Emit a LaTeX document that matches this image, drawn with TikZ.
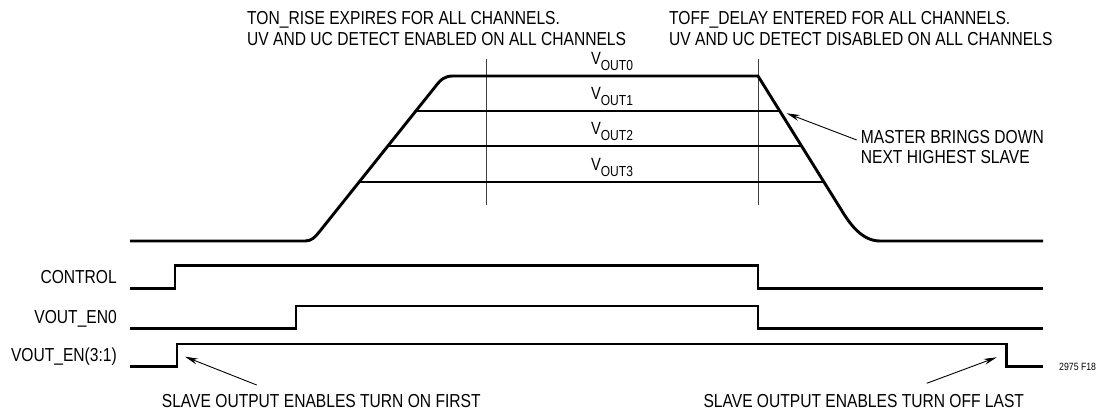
\documentclass[tikz,border=0pt]{standalone}
\usepackage{fontspec}
\setmainfont{Liberation Sans}[FakeStretch=0.83]
\usetikzlibrary{arrows.meta}
\newcommand\vsublabel[1]{V\raisebox{-5.7pt}{\fontsize{14.5}{14.5}\selectfont OUT#1}}
\tikzset{
  wave/.style={line width=2.9pt, line join=round},
  digi/.style={line width=2.9pt, line join=miter},
  guide/.style={line width=0.9pt, black!75},
  note/.style={font=\fontsize{18.8}{20.5}\selectfont, inner sep=0pt},
  notew/.style={note, anchor=base west},
  lbl/.style={note, anchor=base east},
  vl/.style={font=\fontsize{17.7}{18}\selectfont, inner sep=0pt, anchor=base},
  callout/.style={line width=0.9pt, -{Stealth[length=13pt,width=6pt]}},
}
\begin{document}
\begin{tikzpicture}[x=1pt,y=-1pt]
\useasboundingbox (0,0) rectangle (1100,413);

% top notes
\node[notew] (ton1) at (247,24) {TON\_RISE EXPIRES FOR ALL CHANNELS.};
\node[notew] (ton2) at (247,45) {UV AND UC DETECT ENABLED ON ALL CHANNELS};
\node[notew] (toff1) at (669,24) {TOFF\_DELAY ENTERED FOR ALL CHANNELS.};
\node[notew] (toff2) at (669,45) {UV AND UC DETECT DISABLED ON ALL CHANNELS};

% guide lines
\draw[guide] (486,59) -- (486,205);
\draw[guide] (758,59) -- (758,205);

% output rails
\draw[wave] (130,241) -- (305,241) .. controls (312,241) and (315,237) .. (320,231)
  -- (435,87) .. controls (441,79) and (445,76) .. (453,76) -- (758,76)
  -- (842,211) .. controls (850,224) and (862,241) .. (880,241) -- (1043,241);
\draw[wave] (415.8,111) -- (779.8,111);
\draw[wave] (387.9,146) -- (801.6,146);
\draw[wave] (359.1,182) -- (824.0,182);

\node[vl] (v0) at (612,64.5) {\vsublabel0};
\node[vl] (v1) at (612,99.5) {\vsublabel1};
\node[vl] (v2) at (612,134.5) {\vsublabel2};
\node[vl] (v3) at (612,170.5) {\vsublabel3};

% master note
\node[notew] (m1) at (860.7,143.3) {MASTER BRINGS DOWN};
\node[notew] (m2) at (860.7,163.3) {NEXT HIGHEST SLAVE};
\coordinate (mtail) at (856.7,140);
\coordinate (mtip) at (786.7,113.3);
\draw[callout] (mtail) -- (mtip);

% digital signals
\node[lbl] (lc) at (117,283) {CONTROL};
\node[lbl] (le0) at (117,323) {VOUT\_EN0};
\node[lbl] (le31) at (117,361.5) {VOUT\_EN(3:1)};

\draw[digi] (130,288.5) -- (175,288.5) -- (175,265.5) -- (758,265.5) -- (758,288.5) -- (1043,288.5);
\draw[digi] (130,328.3) -- (296,328.3) -- (296,306) -- (758,306) -- (758,328.3) -- (1043,328.3);
\draw[digi] (130,366.7) -- (177,366.7) -- (177,344) -- (1006.5,344) -- (1006.5,366.7) -- (1043,366.7);

% bottom notes
\node[notew] (son) at (161.7,407) {SLAVE OUTPUT ENABLES TURN ON FIRST};
\node[notew] (soff) at (703.3,407) {SLAVE OUTPUT ENABLES TURN OFF LAST};
\coordinate (ltail) at (256.7,385);
\coordinate (ltip) at (185,356.7);
\draw[callout] (ltail) -- (ltip);
\coordinate (rtail) at (926.7,383.3);
\coordinate (rtip) at (996.7,357.3);
\draw[callout] (rtail) -- (rtip);

\node[anchor=base west, inner sep=0pt, font=\fontsize{10.5}{11}\selectfont] (fig) at (1059,370) {2975 F18};
\end{tikzpicture}
\end{document}
